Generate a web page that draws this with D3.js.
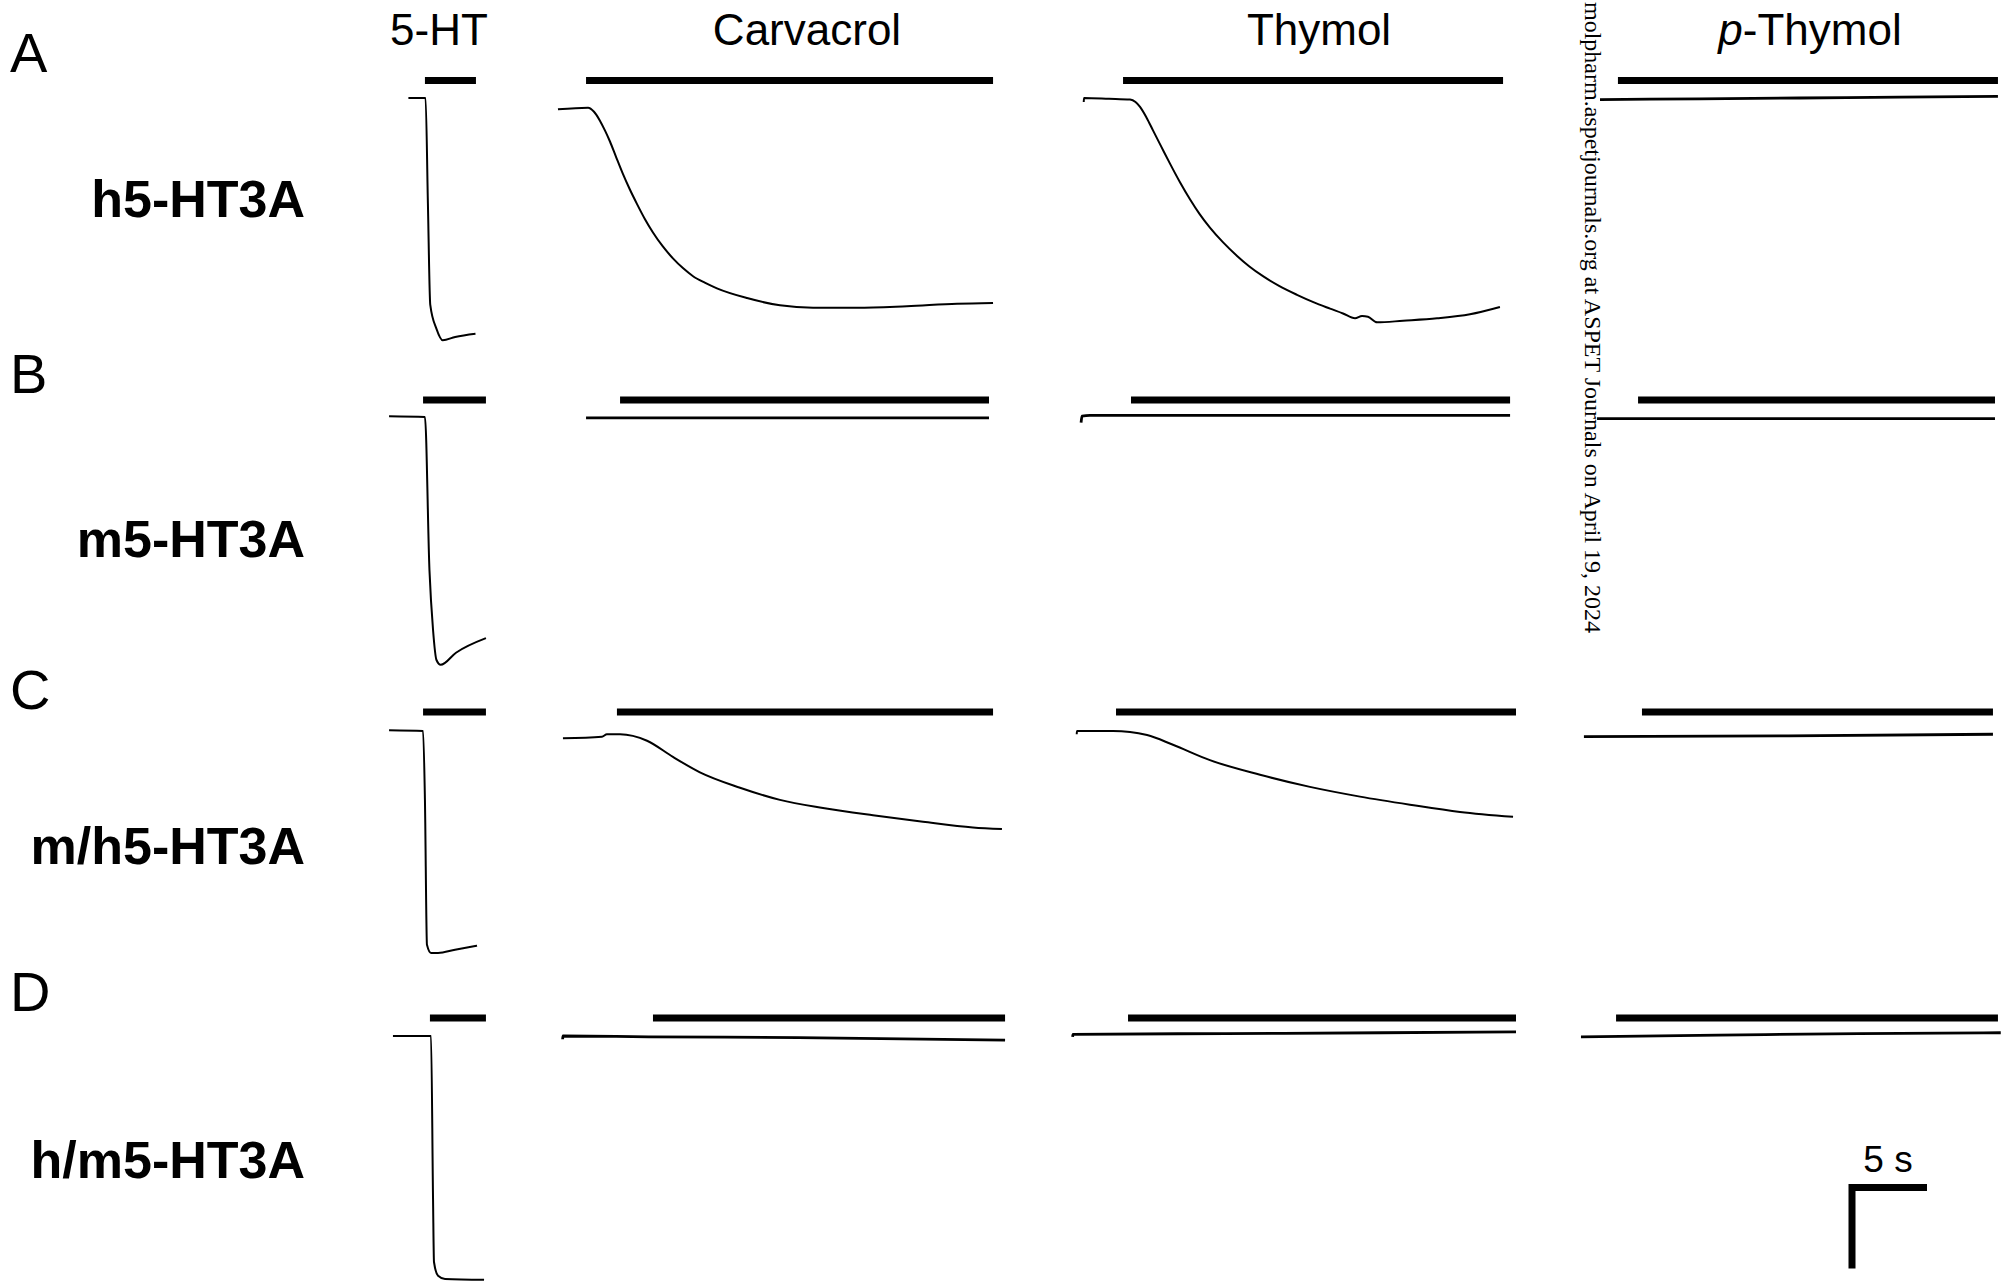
<!DOCTYPE html>
<html>
<head>
<meta charset="utf-8">
<script src="https://cdn.jsdelivr.net/npm/d3@7"></script>
<style>
  body { margin: 0; background: #fff; }
  svg { display: block; }
</style>
</head>
<body>
<script>
// panel letters, receptor names and drug names
const panels = ['A', 'B', 'C', 'D']
const receptors = ['h5-HT3A', 'm5-HT3A', 'm/h5-HT3A', 'h/m5-HT3A']
const drugs = ['5-HT', 'Carvacrol', 'Thymol', 'p-Thymol']

// application bars, [start, end] in seconds, one per drug column
const barsA = [[2.56, 5.83], [1.99, 28.08], [3.40, 27.76], [2.56, 26.92]]
const barsB = [[2.44, 6.47], [4.17, 27.82], [3.91, 28.21], [3.85, 26.73]]
const barsC = [[2.44, 6.47], [3.97, 28.08], [2.95, 28.59], [4.10, 26.60]]
const barsD = [[2.88, 6.47], [6.28, 28.85], [3.72, 28.59], [2.44, 26.92]]

// current traces, [time (s), current (scale units, inward = negative)]
const htA = [[1.5, 0], [2.6, 0], [2.75, -1.3], [2.9, -2.55], [3.3, -2.85], [3.7, -2.99], [4.5, -2.95], [5.8, -2.91]]
const carvA = [[0.19, -0.14], [2.12, -0.12], [2.5, -0.17], [2.88, -0.28], [3.2, -0.40], [3.53, -0.54], [3.9, -0.72],
  [4.36, -0.94], [4.8, -1.13], [5.26, -1.31], [5.75, -1.49], [6.28, -1.66], [6.9, -1.83], [7.56, -1.98],
  [8.2, -2.10], [8.85, -2.20], [9.6, -2.28], [10.38, -2.35], [12.31, -2.47], [14.42, -2.56], [16.54, -2.59],
  [19.36, -2.59], [22.56, -2.57], [25.77, -2.54], [28.08, -2.53]]
const thyA = [[0.88, -0.05], [0.9, 0], [2.5, -0.01], [3.85, -0.02], [4.2, -0.05], [4.49, -0.11], [4.9, -0.24],
  [5.32, -0.40], [5.85, -0.60], [6.41, -0.81], [7.05, -1.04], [7.69, -1.25], [8.3, -1.43], [8.97, -1.60],
  [9.8, -1.78], [10.71, -1.95], [11.5, -2.08], [12.37, -2.20], [13.4, -2.32], [14.55, -2.43], [15.6, -2.52],
  [16.67, -2.60], [17.5, -2.66], [18.27, -2.72], [18.72, -2.69], [19.10, -2.70], [19.68, -2.77], [21.35, -2.75],
  [23.53, -2.72], [25.64, -2.67], [27.56, -2.58]]
const pthyA = [[1.41, -0.02], [7.8, -0.01], [14.2, 0], [20.6, 0.01], [26.92, 0.02]]

const htB = [[0.26, 0.01], [2.56, 0], [2.85, -1.89], [3.08, -2.63], [3.30, -3.00], [3.57, -3.06], [4.55, -2.91], [6.47, -2.73]]
const carvB = [[1.99, -0.01], [10.0, -0.01], [18.0, -0.01], [27.82, -0.01]]
const thyB = [[0.71, -0.07], [0.77, 0.01], [1.28, 0.02], [14.0, 0.02], [28.21, 0.02]]
const pthyB = [[1.22, -0.02], [14.0, -0.02], [26.73, -0.02]]

const htC = [[0.26, 0.01], [2.44, 0], [2.56, -0.85], [2.69, -2.64], [2.95, -2.74], [3.40, -2.74], [4.49, -2.70], [5.90, -2.65]]
const carvC = [[0.51, -0.09], [3.01, -0.07], [3.33, -0.04], [4.17, -0.04], [5.90, -0.12], [7.56, -0.32], [9.29, -0.51],
  [11.86, -0.70], [14.42, -0.85], [17.18, -0.95], [20.38, -1.04], [23.59, -1.12], [26.79, -1.19], [28.65, -1.21]]
const thyC = [[0.43, -0.04], [0.45, 0], [2.76, 0], [4.94, -0.05], [6.60, -0.17], [8.97, -0.36], [12.18, -0.54],
  [15.38, -0.69], [18.59, -0.81], [21.79, -0.91], [25.00, -1.00], [28.40, -1.06]]
const pthyC = [[0.38, -0.07], [13.5, -0.06], [26.6, -0.04]]

const htD = [[0.51, 0], [2.95, 0], [3.08, -2.02], [3.14, -2.79], [3.40, -2.96], [3.85, -3.00], [6.35, -3.01]]
const carvD = [[0.49, -0.04], [0.51, 0], [6.0, -0.01], [15.6, -0.02], [28.85, -0.05]]
const thyD = [[0.17, -0.01], [0.19, 0.02], [10.0, 0.03], [20.0, 0.04], [28.59, 0.05]]
const pthyD = [[0.19, -0.01], [9.0, 0.01], [18.0, 0.03], [27.1, 0.04]]

const bars = [barsA, barsB, barsC, barsD]
const traces = [[htA, carvA, thyA, pthyA], [htB, carvB, thyB, pthyB], [htC, carvC, thyC, pthyC], [htD, carvD, thyD, pthyD]]
// flat, noisy recordings look heavier in the figure
const noisy = [[0, 0, 0, 1], [0, 1, 1, 1], [0, 0, 0, 1], [0, 1, 1, 1]]

const scaleSeconds = 5
const watermark = 'molpharm.aspetjournals.org at ASPET Journals on April 19, 2024'

//layout of the figure
const w = 2001
const h = 1283
const pxPerSec = 15.6
const pxPerUnit = 81
const colX = [385, 555, 1070, 1578]
const colLabelX = [439, 807, 1319, 1810]
const rowY = [98, 417, 731, 1036]
const barY = [80.5, 400, 712, 1018]
const letterY = [72, 393, 709, 1011]
const receptorY = [217, 557, 864, 1178]

const font = '"Liberation Sans", Arial, Helvetica, sans-serif'

const svg = d3.select('body')
  .append('svg')
  .attr('width', w)
  .attr('height', h)
  .style('background', '#fff')

//one x scale per drug column and one y scale per receptor row
const xScales = colX.map(x0 => d3.scaleLinear().domain([0, 30]).range([x0, x0 + 30 * pxPerSec]))
const yScales = rowY.map(y0 => d3.scaleLinear().domain([0, -4]).range([y0, y0 + 4 * pxPerUnit]))

//column titles
const titles = svg.append('g')
  .attr('font-family', font)
  .attr('font-size', 44)
  .attr('fill', '#000')
  .attr('text-anchor', 'middle')

drugs.forEach((name, i) => {
  const t = titles.append('text')
    .attr('x', colLabelX[i])
    .attr('y', 45)
  if (name.startsWith('p-')) {
    t.append('tspan').attr('font-style', 'italic').text('p')
    t.append('tspan').text(name.slice(1))
  } else {
    t.text(name)
  }
})

//panel letters and receptor names
svg.append('g')
  .selectAll('text')
  .data(panels)
  .enter()
  .append('text')
  .attr('x', 10)
  .attr('y', (d, i) => letterY[i])
  .attr('font-family', font)
  .attr('font-size', 56)
  .text(d => d)

svg.append('g')
  .selectAll('text')
  .data(receptors)
  .enter()
  .append('text')
  .attr('x', 305)
  .attr('y', (d, i) => receptorY[i])
  .attr('text-anchor', 'end')
  .attr('font-family', font)
  .attr('font-weight', 'bold')
  .attr('font-size', 52)
  .text(d => d)

//drug application bars
bars.forEach((rowBars, r) => {
  svg.append('g')
    .selectAll('rect')
    .data(rowBars)
    .enter()
    .append('rect')
    .attr('x', (d, c) => xScales[c](d[0]))
    .attr('width', (d, c) => xScales[c](d[1]) - xScales[c](d[0]))
    .attr('y', barY[r] - 3.5)
    .attr('height', 7)
    .attr('fill', '#000')
})

//current traces
traces.forEach((rowTraces, r) => {
  rowTraces.forEach((data, c) => {
    const line = d3.line()
      .x(d => xScales[c](d[0]))
      .y(d => yScales[r](d[1]))
      .curve(d3.curveMonotoneX)
    svg.append('path')
      .datum(data)
      .attr('d', line)
      .attr('fill', 'none')
      .attr('stroke', '#000')
      .attr('stroke-width', noisy[r][c] ? 2.8 : 2)
      .attr('stroke-linejoin', 'round')
  })
})

//scale bar, 5 s horizontal and one current unit vertical
const sx = d3.scaleLinear().domain([0, scaleSeconds]).range([1849, 1849 + scaleSeconds * pxPerSec])
const sy = d3.scaleLinear().domain([0, -1]).range([1187.5, 1187.5 + pxPerUnit])
svg.append('path')
  .attr('d', `M${sx(scaleSeconds)},${sy(0)}H${sx(0) + 3}V${sy(-1)}`)
  .attr('fill', 'none')
  .attr('stroke', '#000')
  .attr('stroke-width', 7)
  .attr('stroke-linejoin', 'miter')

svg.append('text')
  .attr('x', (sx(0) + sx(scaleSeconds)) / 2)
  .attr('y', 1172)
  .attr('text-anchor', 'middle')
  .attr('font-family', font)
  .attr('font-size', 37)
  .text(`${scaleSeconds} s`)

//journal download stamp running down the page
svg.append('text')
  .attr('transform', 'translate(1585,2) rotate(90)')
  .attr('font-family', '"Liberation Serif", "Times New Roman", serif')
  .attr('font-size', 24)
  .attr('fill', '#000')
  .text(watermark)
</script>
</body>
</html>
